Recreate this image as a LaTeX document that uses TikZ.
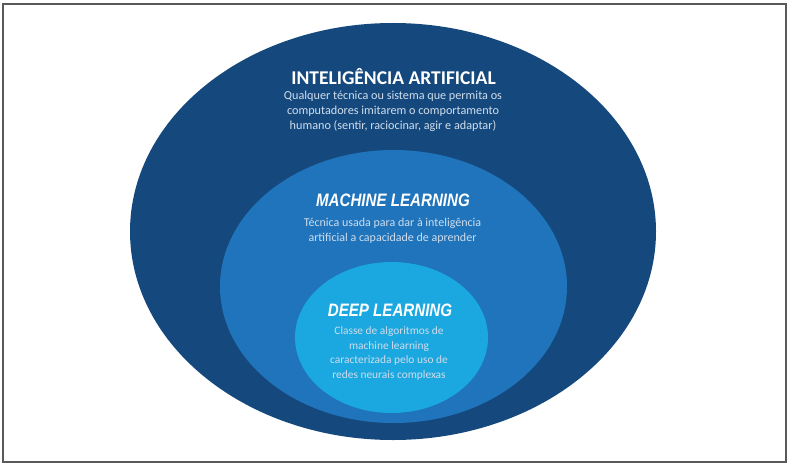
\documentclass[tikz,border=0pt]{standalone}
\usepackage{fontspec}
\setmainfont{Carlito}
\newfontfamily\headfont[FakeStretch=0.84]{Liberation Sans}
\usetikzlibrary{positioning}

\definecolor{aiblue}{HTML}{15497D}
\definecolor{mlblue}{HTML}{1F74BC}
\definecolor{dlblue}{HTML}{1BA7DF}
\definecolor{desctext}{HTML}{CFDDEC}

\tikzset{
    heading/.style={text=white, inner sep=0pt, font=\fontsize{19.5}{21}\selectfont\bfseries},
    mlheading/.style={text=white, inner sep=0pt, font=\fontsize{18}{20}\selectfont\headfont\bfseries\itshape},
    desc/.style={text=desctext, inner sep=0pt, align=center, font=\fontsize{12.2}{15}\selectfont}
}

\begin{document}
\begin{tikzpicture}[x=1pt, y=-1pt]
        \useasboundingbox (0, 0) rectangle (791, 468);

        \draw [black!65, line width=1.2pt] (3, 4) rectangle (786, 462);

        % the three sets
        \fill [aiblue] (393, 231.5) ellipse [x radius=263pt, y radius=208.5pt];
        \fill [mlblue] (393.5, 286.5) ellipse [x radius=173.5pt, y radius=136.5pt];
        \fill [dlblue] (391.5, 337.5) ellipse [x radius=96.5pt, y radius=75.5pt];

        \node [heading] (aititle) at (393.5, 77) {INTELIGÊNCIA ARTIFICIAL};
        \node [desc] (aidesc) at (393, 111) {Qualquer técnica ou sistema que permita os\\
            computadores imitarem o comportamento\\
            humano (sentir, raciocinar, agir e adaptar)};

        \node [mlheading] (mltitle) at (393, 200) {MACHINE LEARNING};
        \node [desc, font=\fontsize{12}{15}\selectfont] (mldesc) at (392.5, 231) {Técnica usada para dar à inteligência\\
            artificial a capacidade de aprender};

        \node [mlheading] (dltitle) at (390, 310) {DEEP LEARNING};
        \node [desc, font=\fontsize{11.4}{14.4}\selectfont] (dldesc) at (389, 353.5) {Classe de algoritmos de\\
            machine learning\\
            caracterizada pelo uso de\\
            redes neurais complexas};

    \end{tikzpicture}
\end{document}
